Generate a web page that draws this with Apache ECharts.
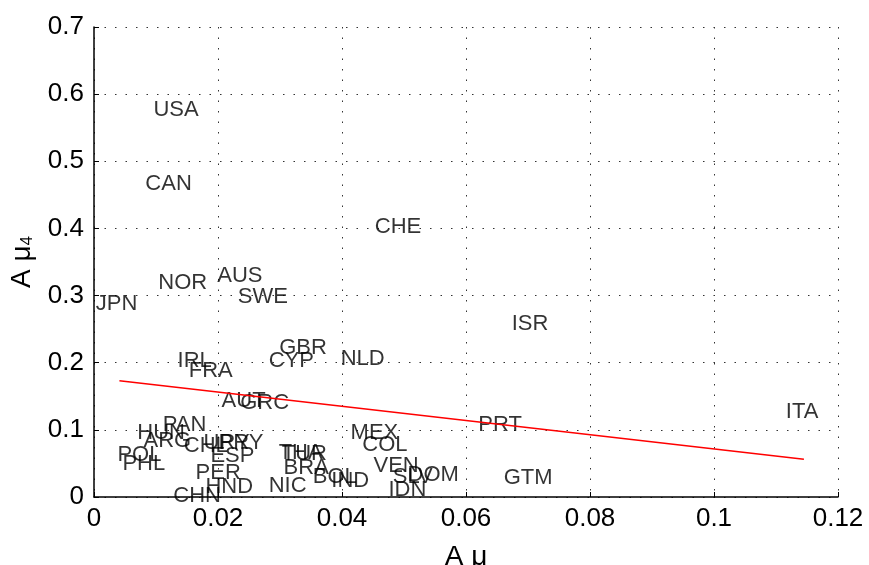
<!DOCTYPE html>
<html><head><meta charset="utf-8">
<script src="https://cdn.jsdelivr.net/npm/echarts@6/dist/echarts.min.js"></script>
<style>html,body{margin:0;padding:0;background:#fff}#c{width:869px;height:565px}</style>
</head><body><div id="c"></div>
<script>
var countries = ['USA','CAN','CHE','NOR','AUS','SWE','JPN','ISR','GBR','CYP','NLD','IRL','FRA','AUT','GRC','PRT','ITA','GTM','MEX','COL','VEN','SLV','DOM','IDN','THA','TUR','BRA','BOL','IND','NIC','HUN','ARG','POL','PHL','PAN','CHL','URY','PRY','ESP','PER','HND','CHN'];
var aMu  = [0.0095,0.0082,0.0452,0.0103,0.0198,0.0231,0.0002,0.0673,0.0298,0.0281,0.0397,0.0134,0.0152,0.0205,0.0235,0.0619,0.1115,0.0660,0.0413,0.0432,0.0450,0.0481,0.0505,0.0474,0.0297,0.0302,0.0305,0.0352,0.0382,0.0281,0.0069,0.0079,0.0037,0.0045,0.0110,0.0144,0.0176,0.0200,0.0187,0.0163,0.0179,0.0127];
var aMu4 = [0.581,0.471,0.407,0.323,0.334,0.303,0.292,0.262,0.227,0.207,0.210,0.207,0.192,0.148,0.145,0.112,0.131,0.033,0.100,0.082,0.051,0.034,0.037,0.015,0.070,0.069,0.048,0.034,0.028,0.021,0.100,0.088,0.067,0.054,0.112,0.080,0.085,0.085,0.066,0.040,0.019,0.006];
var fitX = [0.0041, 0.1145];
var fitY = [0.173, 0.0563];
var xTicks = {min:0, max:0.12, step:0.02};
var yTicks = {min:0, max:0.7, step:0.1};

var pts = countries.map(function(n,i){return [aMu[i], aMu4[i], n];});
var fitPts = fitX.map(function(x,i){return [x, fitY[i]];});
var FONT = 'Liberation Sans';
var chart = echarts.init(document.getElementById('c'));
var grid = {lineStyle:{color:'#333', type:[1.5,9], width:1}};
chart.setOption({
  animation:false,
  grid:{left:94,right:31,top:27,bottom:68,containLabel:false,outerBoundsMode:'none'},
  xAxis:{type:'value',min:xTicks.min,max:xTicks.max,interval:xTicks.step,
    axisLine:{lineStyle:{color:'#000',width:1.5}},
    axisTick:{inside:true,length:5,lineStyle:{color:'#000'}},
    axisLabel:{color:'#000',fontSize:26,fontFamily:FONT,margin:9},
    splitLine:{show:true,lineStyle:grid.lineStyle},
    name:'A μ',nameLocation:'middle',nameGap:46,
    nameTextStyle:{color:'#000',fontSize:28,fontFamily:FONT}},
  yAxis:{type:'value',min:yTicks.min,max:yTicks.max,interval:yTicks.step,
    axisLine:{show:true,lineStyle:{color:'#000',width:1.5}},
    axisTick:{show:true,inside:true,length:5,lineStyle:{color:'#000'}},
    axisLabel:{color:'#000',fontSize:26,fontFamily:FONT,margin:10},
    splitLine:{show:true,lineStyle:grid.lineStyle},
    name:'{a|A μ}{s|4}',nameLocation:'middle',nameGap:58,nameRotate:90,
    nameTextStyle:{rich:{a:{color:'#000',fontSize:28,fontFamily:FONT},s:{color:'#000',fontSize:17,fontFamily:FONT,verticalAlign:'bottom'}}}},
  series:[
    {type:'scatter',data:pts,symbolSize:1,itemStyle:{color:'rgba(0,0,0,0)'},
     label:{show:true,position:'right',distance:0,offset:[0,3],color:'#000',fontSize:22,fontFamily:FONT,
       formatter:function(p){return p.data[2];}}},
    {type:'line',data:fitPts,symbol:'none',lineStyle:{color:'#ff0000',width:1.5}}
  ]
});
</script></body></html>
